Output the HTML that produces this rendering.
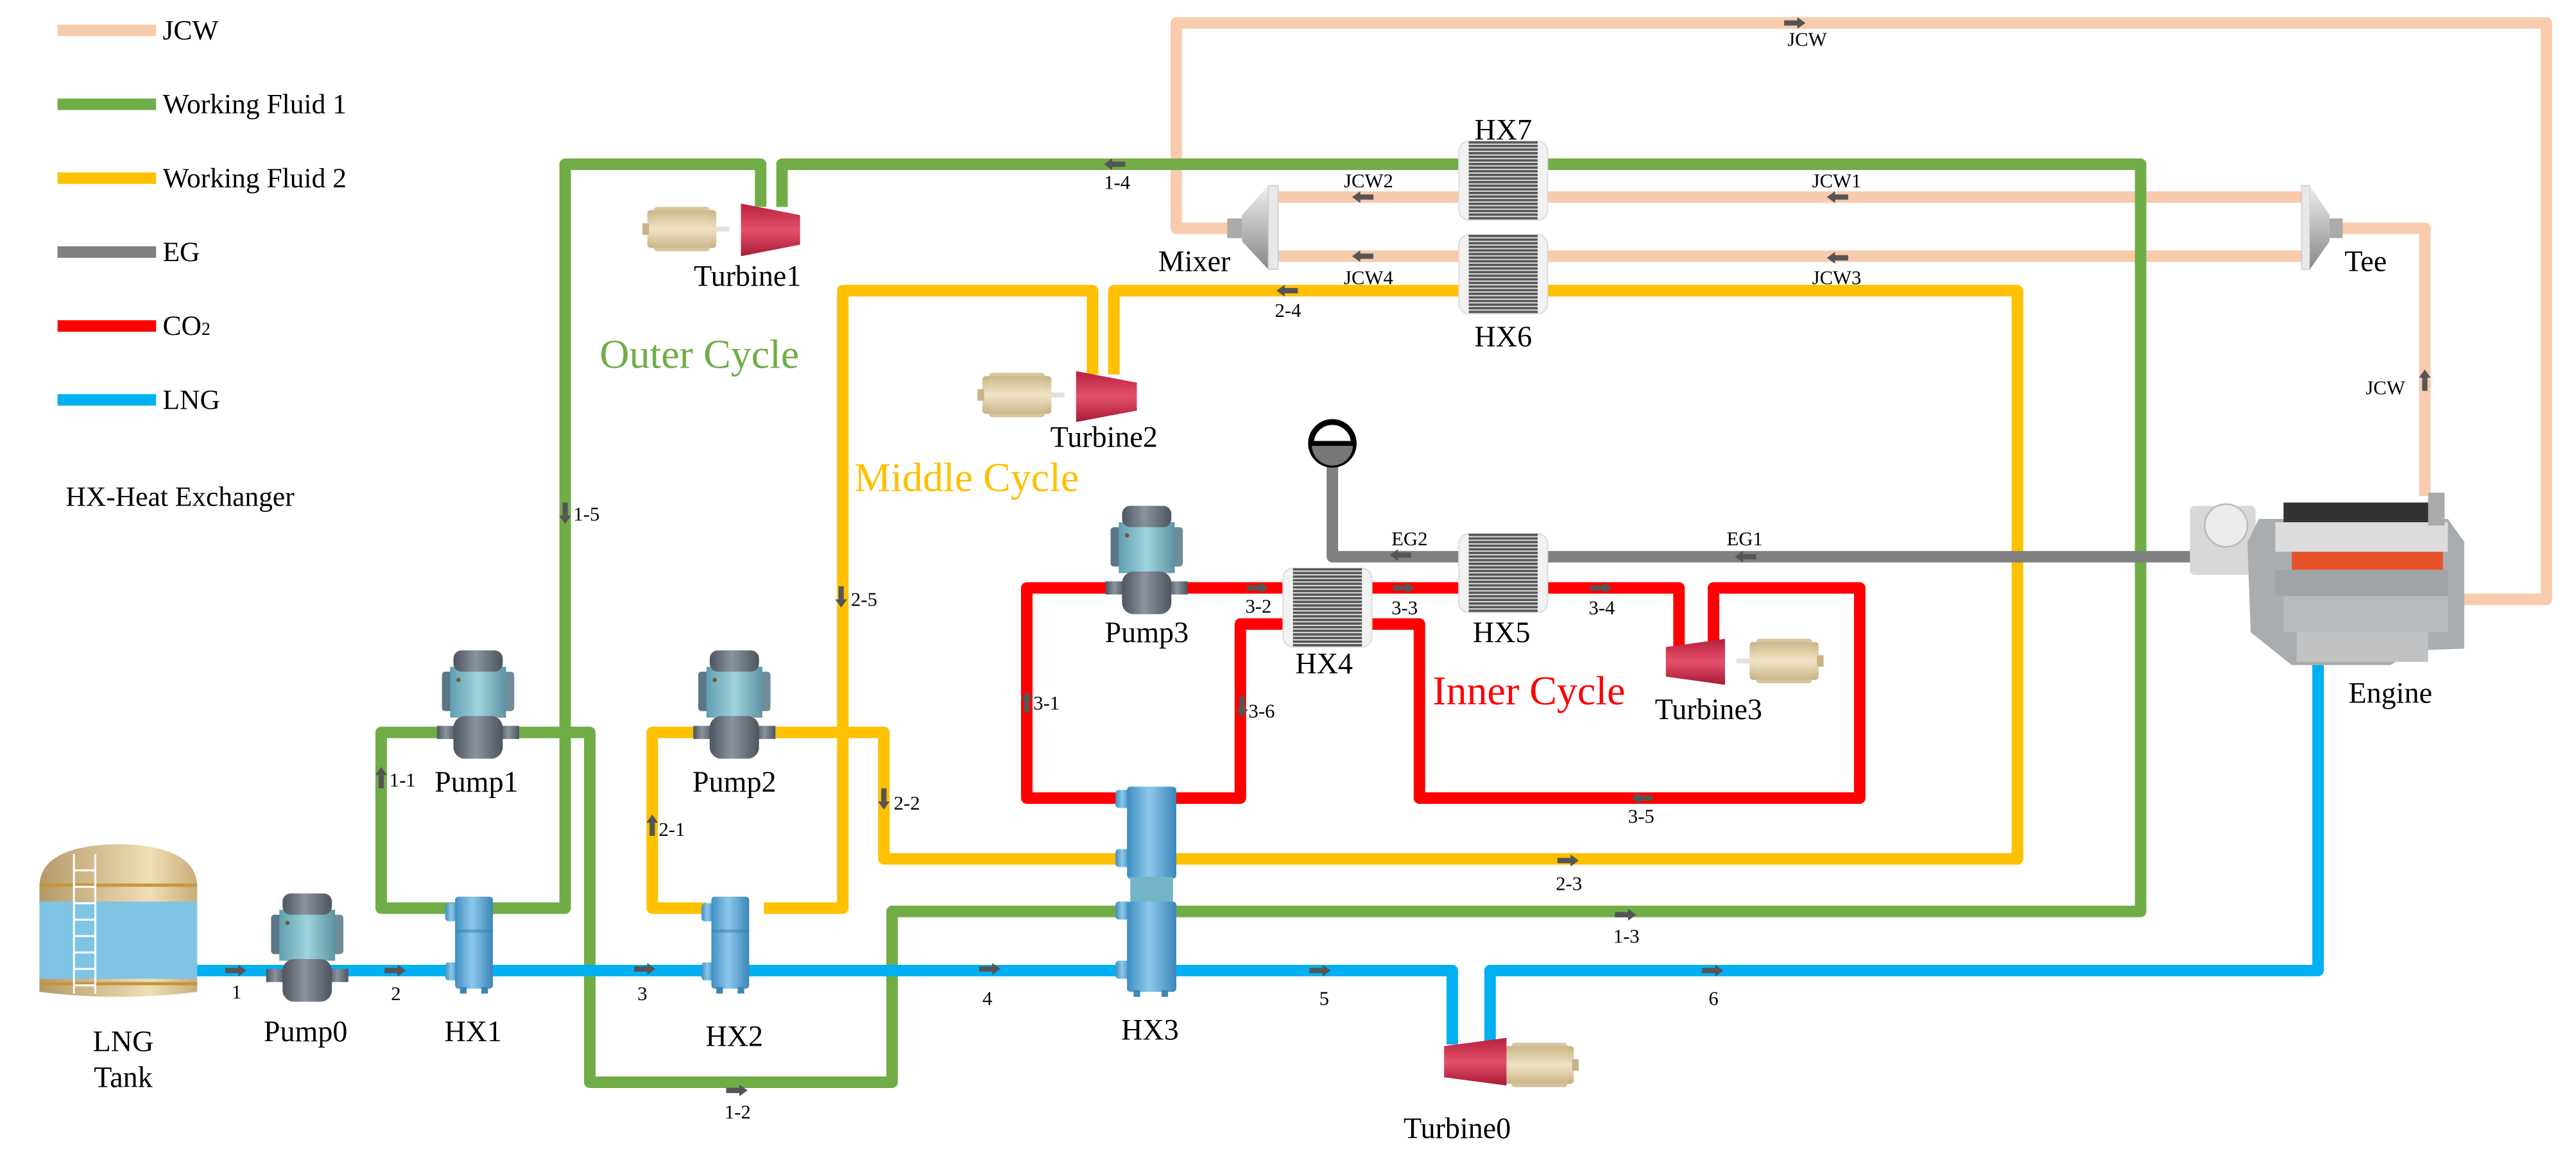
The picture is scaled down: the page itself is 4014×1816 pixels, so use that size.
<!DOCTYPE html>
<html><head><meta charset="utf-8"><style>
html,body{margin:0;padding:0;background:#fff;}
svg{display:block;font-family:"Liberation Serif","Times New Roman",serif;}
svg text{font-family:"Liberation Serif","Times New Roman",serif !important;fill:#000;}
.s{font-size:12px;text-anchor:middle;}
.m{font-size:18px;text-anchor:middle;}
.lg{font-size:17px;}
</style></head><body>
<svg width="4014" height="1816" viewBox="0 0 1568 709.4" xmlns="http://www.w3.org/2000/svg" font-family="Liberation Serif, serif">
<defs>
<linearGradient id="teal" x1="0" x2="1"><stop offset="0" stop-color="#5f9fb0"/><stop offset="0.5" stop-color="#9fd3de"/><stop offset="1" stop-color="#5d93a3"/></linearGradient>
<linearGradient id="gry" x1="0" x2="1"><stop offset="0" stop-color="#4d5560"/><stop offset="0.45" stop-color="#8b939d"/><stop offset="1" stop-color="#4d5560"/></linearGradient>
<linearGradient id="blu" x1="0" x2="1"><stop offset="0" stop-color="#3f8fc2"/><stop offset="0.45" stop-color="#8dc8ea"/><stop offset="1" stop-color="#3c86b8"/></linearGradient>
<linearGradient id="tan" x1="0" x2="0" y1="0" y2="1"><stop offset="0" stop-color="#c9b283"/><stop offset="0.5" stop-color="#efe4c6"/><stop offset="1" stop-color="#c8b082"/></linearGradient>
<linearGradient id="tank" x1="0" x2="1"><stop offset="0" stop-color="#b59a68"/><stop offset="0.7" stop-color="#efdfb6"/><stop offset="1" stop-color="#c9ad78"/></linearGradient>
<linearGradient id="red" x1="0" x2="0" y1="0" y2="1"><stop offset="0" stop-color="#b8203e"/><stop offset="0.5" stop-color="#e4506a"/><stop offset="1" stop-color="#a81a36"/></linearGradient>
<linearGradient id="mix" x1="0" x2="0" y1="0" y2="1"><stop offset="0" stop-color="#eee"/><stop offset="0.5" stop-color="#bbb"/><stop offset="1" stop-color="#888"/></linearGradient>
<pattern id="plt" width="3" height="2.2" patternUnits="userSpaceOnUse"><rect width="3" height="2.2" fill="#ddd"/><rect width="3" height="1.4" fill="#555"/></pattern>
<path id="ar" d="M-7,-1.6 H1 V-3.6 L6,0 L1,3.6 V1.6 H-7 Z" fill="#555"/>
<g id="pump">
 <rect x="3" y="13" width="8" height="24" rx="2" fill="#5b7787"/>
 <rect x="39" y="13" width="8" height="24" rx="2" fill="#6f8c99"/>
 <rect x="8" y="10" width="34" height="31" fill="url(#teal)"/>
 <rect x="10" y="0" width="30" height="13" rx="5" fill="url(#gry)"/>
 <circle cx="13" cy="18" r="1.3" fill="#7a5a30"/>
 <rect x="0" y="46" width="12" height="8" fill="url(#gry)"/>
 <rect x="38" y="46" width="12" height="8" fill="url(#gry)"/>
 <rect x="10" y="40" width="30" height="26" rx="7" fill="url(#gry)"/>
</g>
<g id="hxc">
 <rect x="0" y="4" width="8" height="11" rx="2" fill="url(#blu)"/>
 <rect x="0" y="40" width="8" height="11" rx="2" fill="url(#blu)"/>
 <rect x="6" y="0" width="23" height="56" rx="2" fill="url(#blu)"/>
 <rect x="6" y="20" width="23" height="2" fill="#3a7fae" opacity="0.5"/>
 <rect x="9" y="55" width="4" height="4" fill="#3c86b8"/><rect x="22" y="55" width="4" height="4" fill="#3c86b8"/>
</g>
<g id="hxp">
 <rect x="-2" y="0" width="54" height="48" rx="6" fill="#f2f2f2" stroke="#ddd" stroke-width="0.8"/>
 <rect x="4" y="0" width="42" height="48" fill="url(#plt)"/>
</g>
<g id="gen">
 <rect x="0" y="0" width="42" height="23" rx="2" fill="url(#tan)"/>
 <rect x="4" y="-2" width="34" height="27" rx="2" fill="url(#tan)" opacity="0.8"/>
 <rect x="-3" y="8" width="4" height="7" fill="#c9b283"/><rect x="42" y="10" width="8" height="3" fill="#e8e0d8"/>
</g>
</defs>

<!-- Legend -->
<rect x="35" y="15" width="60" height="7" fill="#F8CBAD"/>
<rect x="35" y="60" width="60" height="7" fill="#70AD47"/>
<rect x="35" y="105" width="60" height="7" fill="#FFC000"/>
<rect x="35" y="150" width="60" height="7" fill="#808080"/>
<rect x="35" y="195" width="60" height="7" fill="#FF0000"/>
<rect x="35" y="240" width="60" height="7" fill="#00B0F0"/>
<text class="lg" x="99" y="24">JCW</text>
<text class="lg" x="99" y="69">Working Fluid 1</text>
<text class="lg" x="99" y="114">Working Fluid 2</text>
<text class="lg" x="99" y="159">EG</text>
<text class="lg" x="99" y="204">CO<tspan font-size="11">2</tspan></text>
<text class="lg" x="99" y="249">LNG</text>
<text class="lg" x="40" y="308">HX-Heat Exchanger</text>

<!-- JCW pipes -->
<g stroke="#F8CBAD" style="fill:none;stroke-width:7;stroke-linejoin:round">
<polyline points="750,139 716,139 716,14 1550,14 1550,365 1500,365"/>
<polyline points="1403,120 776,120"/>
<polyline points="1403,156 776,156"/>
<polyline points="1424,139 1476,139 1476,302"/>
</g>
<!-- Green -->
<g stroke="#70AD47" style="fill:none;stroke-width:7;stroke-linejoin:round">
<polyline points="463,126 463,100 344,100 344,553 300,553"/>
<polyline points="476,126 476,100 1303,100 1303,555 712,555"/>
<polyline points="690,555 543,555 543,659 359,659 359,446 312,446"/>
<polyline points="270,446 232,446 232,553 280,553"/>
</g>
<!-- Yellow -->
<g stroke="#FFC000" style="fill:none;stroke-width:7;stroke-linejoin:round">
<polyline points="665,228 665,177 513,177 513,553 465,553"/>
<polyline points="678,228 678,177 1228,177 1228,523 712,523"/>
<polyline points="690,523 538,523 538,446 468,446"/>
<polyline points="426,446 397,446 397,553 430,553"/>
</g>
<!-- Red -->
<g stroke="#FF0000" style="fill:none;stroke-width:7;stroke-linejoin:round">
<polyline points="676,358 625,358 625,486 690,486"/>
<polyline points="712,486 755,486 755,380 785,380"/>
<polyline points="720,358 785,358"/>
<polyline points="831,358 892,358"/>
<polyline points="940,358 1022,358 1022,394"/>
<polyline points="1043,394 1043,358 1132,358 1132,486 864,486 864,380 831,380"/>
</g>
<!-- EG -->
<g stroke="#808080" style="fill:none;stroke-width:7;stroke-linejoin:round">
<polyline points="1335,339 940,339"/>
<polyline points="892,339 811,339 811,284"/>
</g>
<!-- LNG -->
<g stroke="#00B0F0" style="fill:none;stroke-width:7;stroke-linejoin:round">
<polyline points="118,591 690,591"/>
<polyline points="712,591 884,591 884,636"/>
<polyline points="907,636 907,591 1411,591 1411,400"/>
</g>

<!-- Stack symbol -->
<circle cx="811" cy="270" r="13" fill="#fff" stroke="#000" stroke-width="3.5"/>
<path d="M798.5,271 A12.5,12.5 0 0 0 823.5,271 Z" fill="#777"/>
<line x1="798" y1="270" x2="824" y2="270" stroke="#000" stroke-width="3"/>

<!-- Mixer -->
<rect x="747" y="133" width="9" height="12" fill="#aaa"/>
<polygon points="756,131 772,113 772,164 756,147" fill="url(#mix)"/>
<rect x="772" y="113" width="6" height="51" fill="#e8e8e8" stroke="#ccc" stroke-width="0.6"/>
<!-- Tee -->
<rect x="1401" y="113" width="5" height="51" fill="#e8e8e8" stroke="#ccc" stroke-width="0.6"/>
<polygon points="1406,113 1418,131 1418,147 1406,164" fill="url(#mix)"/>
<rect x="1418" y="133" width="8" height="12" fill="#aaa"/>

<!-- Plate HX -->
<use href="#hxp" x="890" y="86"/>
<use href="#hxp" x="890" y="143"/>
<use href="#hxp" x="890" y="325"/>
<use href="#hxp" x="783" y="346"/>

<!-- Cylinder HX -->
<use href="#hxc" x="271" y="546"/>
<use href="#hxc" x="427" y="546"/>
<g>
 <rect x="679" y="481" width="9" height="11" rx="2" fill="url(#blu)"/>
 <rect x="679" y="517" width="9" height="11" rx="2" fill="url(#blu)"/>
 <rect x="679" y="549" width="9" height="11" rx="2" fill="url(#blu)"/>
 <rect x="679" y="585" width="9" height="11" rx="2" fill="url(#blu)"/>
 <rect x="686" y="479" width="30" height="56" rx="2" fill="url(#blu)"/>
 <rect x="688" y="534" width="26" height="16" fill="#72b4c8"/>
 <rect x="686" y="549" width="30" height="55" rx="2" fill="url(#blu)"/>
 <rect x="690" y="603" width="4" height="4" fill="#3c86b8"/><rect x="707" y="603" width="4" height="4" fill="#3c86b8"/>
</g>

<!-- Pumps -->
<use href="#pump" x="162" y="544"/>
<use href="#pump" x="266" y="396"/>
<use href="#pump" x="422" y="396"/>
<use href="#pump" x="673" y="308"/>

<!-- Turbines & generators -->
<use href="#gen" x="394" y="128"/>
<polygon points="451,124 487,131 487,149 451,156" fill="url(#red)"/>
<use href="#gen" x="598" y="229"/>
<polygon points="655,226 692,233 692,250 655,257" fill="url(#red)"/>
<g transform="translate(2153,0) scale(-1,1)"><use href="#gen" x="1046" y="391"/></g>
<polygon points="1014,394 1050,389 1050,417 1014,412" fill="url(#red)"/>
<g transform="translate(1883,0) scale(-1,1)"><use href="#gen" x="925" y="637"/></g>
<polygon points="879,637 917,632 917,661 879,656" fill="url(#red)"/>

<!-- Tank -->
<path d="M24,540 Q24,515 72,514 Q120,515 120,540 L120,604 Q72,610 24,604 Z" fill="url(#tank)"/>
<rect x="24" y="549" width="96" height="47" fill="#7fc4e4"/>
<rect x="24" y="538" width="96" height="2" fill="#c6963e"/>
<rect x="24" y="598" width="96" height="2" fill="#c6963e"/>
<g stroke="#fff" stroke-width="1.2">
<line x1="45" y1="520" x2="45" y2="605"/><line x1="58" y1="520" x2="58" y2="605"/>
<line x1="45" y1="530" x2="58" y2="530"/><line x1="45" y1="540" x2="58" y2="540"/><line x1="45" y1="550" x2="58" y2="550"/><line x1="45" y1="560" x2="58" y2="560"/><line x1="45" y1="570" x2="58" y2="570"/><line x1="45" y1="580" x2="58" y2="580"/><line x1="45" y1="590" x2="58" y2="590"/><line x1="45" y1="600" x2="58" y2="600"/>
</g>

<!-- Engine -->
<g>
<rect x="1333" y="308" width="40" height="42" rx="3" fill="#d8d8d8"/>
<circle cx="1355" cy="320" r="13" fill="#ececec" stroke="#bbb"/>
<polygon points="1375,316 1490,316 1500,330 1500,395 1470,396 1455,405 1395,405 1370,385 1368,330" fill="#a9adb0"/>
<rect x="1390" y="306" width="90" height="14" fill="#333"/>
<rect x="1385" y="318" width="105" height="18" fill="#dcdcdc"/>
<rect x="1395" y="336" width="92" height="11" fill="#e8542a"/>
<rect x="1385" y="347" width="105" height="16" fill="#a0a4a8"/>
<rect x="1390" y="363" width="100" height="22" fill="#b8bbbe"/>
<rect x="1478" y="300" width="10" height="20" fill="#aaa"/>
<rect x="1398" y="385" width="80" height="18" fill="#c0c2c4"/>
</g>

<!-- Labels -->
<text class="m" x="915" y="85">HX7</text>
<text class="m" x="915" y="211">HX6</text>
<text class="m" x="727" y="165">Mixer</text>
<text class="m" x="1440" y="165">Tee</text>
<text class="m" x="455" y="174">Turbine1</text>
<text class="m" x="672" y="272">Turbine2</text>
<text class="m" x="290" y="482">Pump1</text>
<text class="m" x="447" y="482">Pump2</text>
<text class="m" x="698" y="391">Pump3</text>
<text class="m" x="806" y="410">HX4</text>
<text class="m" x="914" y="391">HX5</text>
<text class="m" x="1040" y="438">Turbine3</text>
<text class="m" x="1455" y="428">Engine</text>
<text class="m" x="288" y="634">HX1</text>
<text class="m" x="447" y="637">HX2</text>
<text class="m" x="700" y="633">HX3</text>
<text class="m" x="186" y="634">Pump0</text>
<text class="m" x="75" y="640">LNG</text>
<text class="m" x="75" y="662">Tank</text>
<text class="m" x="887" y="693">Turbine0</text>
<text x="365" y="224" font-size="25" style="fill:#70AD47">Outer Cycle</text>
<text x="520" y="299" font-size="25" style="fill:#FFC000">Middle Cycle</text>
<text x="872" y="429" font-size="25" style="fill:#FF0000">Inner Cycle</text>

<!-- arrows -->
<use href="#ar" transform="translate(1093,14)"/>
<use href="#ar" transform="translate(678,100) rotate(180)"/>
<use href="#ar" transform="translate(829,120) rotate(180)"/>
<use href="#ar" transform="translate(1118,120) rotate(180)"/>
<use href="#ar" transform="translate(829,156) rotate(180)"/>
<use href="#ar" transform="translate(1118,157) rotate(180)"/>
<use href="#ar" transform="translate(783,177) rotate(180)"/>
<use href="#ar" transform="translate(1476,231) rotate(-90)"/>
<use href="#ar" transform="translate(852,338) rotate(180)"/>
<use href="#ar" transform="translate(1062,339) rotate(180)"/>
<use href="#ar" transform="translate(766,358)"/>
<use href="#ar" transform="translate(855,358)"/>
<use href="#ar" transform="translate(975,358)"/>
<use href="#ar" transform="translate(625,427) rotate(-90)"/>
<use href="#ar" transform="translate(756,431) rotate(90)"/>
<use href="#ar" transform="translate(999,486) rotate(180)"/>
<use href="#ar" transform="translate(512,364) rotate(90)"/>
<use href="#ar" transform="translate(344,313) rotate(90)"/>
<use href="#ar" transform="translate(232,473) rotate(-90)"/>
<use href="#ar" transform="translate(397,502) rotate(-90)"/>
<use href="#ar" transform="translate(538,487) rotate(90)"/>
<use href="#ar" transform="translate(955,524)"/>
<use href="#ar" transform="translate(990,557)"/>
<use href="#ar" transform="translate(449,664)"/>
<use href="#ar" transform="translate(144,591)"/>
<use href="#ar" transform="translate(241,591)"/>
<use href="#ar" transform="translate(393,590)"/>
<use href="#ar" transform="translate(603,590)"/>
<use href="#ar" transform="translate(804,591)"/>
<use href="#ar" transform="translate(1043,591)"/>

<!-- small labels -->
<text class="s" x="1100" y="28">JCW</text>
<text class="s" x="680" y="115">1-4</text>
<text class="s" x="833" y="114">JCW2</text>
<text class="s" x="1118" y="114">JCW1</text>
<text class="s" x="833" y="173">JCW4</text>
<text class="s" x="1118" y="173">JCW3</text>
<text class="s" x="784" y="193">2-4</text>
<text class="s" x="1452" y="240">JCW</text>
<text class="s" x="858" y="332">EG2</text>
<text class="s" x="1062" y="332">EG1</text>
<text class="s" x="766" y="373">3-2</text>
<text class="s" x="855" y="374">3-3</text>
<text class="s" x="975" y="374">3-4</text>
<text class="s" x="637" y="432">3-1</text>
<text class="s" x="768" y="437">3-6</text>
<text class="s" x="999" y="501">3-5</text>
<text class="s" x="526" y="369">2-5</text>
<text class="s" x="357" y="317">1-5</text>
<text class="s" x="245" y="479">1-1</text>
<text class="s" x="409" y="509">2-1</text>
<text class="s" x="552" y="493">2-2</text>
<text class="s" x="955" y="542">2-3</text>
<text class="s" x="990" y="574">1-3</text>
<text class="s" x="449" y="681">1-2</text>
<text class="s" x="144" y="608">1</text>
<text class="s" x="241" y="609">2</text>
<text class="s" x="391" y="609">3</text>
<text class="s" x="601" y="612">4</text>
<text class="s" x="806" y="612">5</text>
<text class="s" x="1043" y="612">6</text>
</svg>
</body></html>
